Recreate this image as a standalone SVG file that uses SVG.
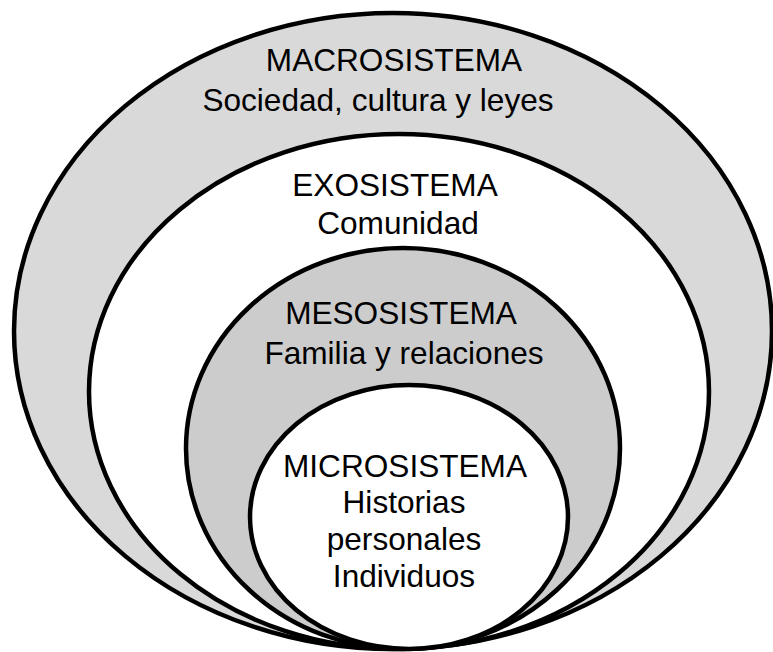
<svg xmlns="http://www.w3.org/2000/svg" width="773" height="652" viewBox="0 0 773 652">
<style>
.ring{stroke:#000;stroke-width:4.5}
.t{font-family:"Liberation Sans",Arial,sans-serif;font-size:31.6px;fill:#000;text-anchor:middle}
</style>
<rect width="773" height="652" fill="#fff"/>
<g id="macro">
<ellipse class="ring" cx="393" cy="331" rx="379" ry="318" fill="#d9d9d9"/>
<text class="t" x="394" y="71">MACROSISTEMA</text>
<text class="t" x="378" y="111">Sociedad, cultura y leyes</text>
</g>
<g id="exo">
<ellipse class="ring" cx="399" cy="391.5" rx="310" ry="257.5" fill="#fff"/>
<text class="t" x="395" y="196">EXOSISTEMA</text>
<text class="t" x="398" y="234">Comunidad</text>
</g>
<g id="meso">
<ellipse class="ring" cx="403" cy="448.5" rx="217" ry="200.5" fill="#cccccc"/>
<text class="t" x="401" y="324">MESOSISTEMA</text>
<text class="t" x="404" y="364">Familia y relaciones</text>
</g>
<g id="micro">
<ellipse class="ring" cx="409" cy="517" rx="159" ry="132" fill="#fff"/>
<text class="t" x="405" y="477">MICROSISTEMA</text>
<text class="t" x="404" y="513">Historias</text>
<text class="t" x="404" y="550">personales</text>
<text class="t" x="404" y="587">Individuos</text>
</g>
<g id="connectors"/>
</svg>
